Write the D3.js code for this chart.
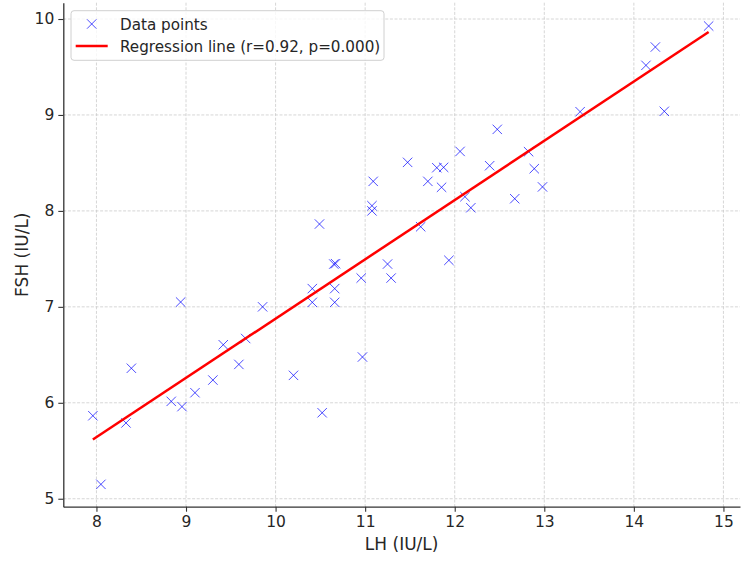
<!DOCTYPE html>
<html>
<head>
<meta charset="utf-8">
<script src="https://cdn.jsdelivr.net/npm/d3@7"></script>
<style>
  body { margin: 0; background: #fff; }
  svg text { font-family: "DejaVu Sans", sans-serif; }
</style>
</head>
<body>
<div id="chart"></div>
<script>
// LH / FSH values
const lhValues = [
    7.96, 8.05, 8.33, 8.39, 8.835, 8.955, 8.94, 9.10, 9.30, 9.416,
    9.59, 9.666, 9.855, 10.20, 10.41, 10.41, 10.65, 10.67, 10.66, 10.66,
    10.956, 11.25, 11.29, 11.935, 10.97, 10.52, 10.49, 11.09, 11.076, 11.076,
    11.474, 11.70, 11.80, 11.876, 11.853, 11.62, 12.06, 12.114, 12.18, 12.39,
    12.475, 12.67, 12.825, 12.888, 12.98, 13.40, 14.135, 14.24, 14.34, 14.835
];
const fshValues = [
    5.865, 5.15, 5.79, 6.36, 6.015, 5.96, 7.05, 6.105, 6.237, 6.605,
    6.40, 6.67, 7.00, 6.286, 7.19, 7.047, 7.446, 7.45, 7.19, 7.047,
    7.30, 7.446, 7.30, 7.485, 6.477, 5.896, 7.863, 8.308, 8.054, 8.00,
    8.506, 8.308, 8.45, 8.454, 8.246, 7.835, 8.62, 8.148, 8.033, 8.471,
    8.85, 8.127, 8.617, 8.44, 8.25, 9.034, 9.517, 9.708, 9.038, 9.927
];
const xTicks = [8, 9, 10, 11, 12, 13, 14, 15];
const yTicks = [5, 6, 7, 8, 9, 10];
const legendLabels = ["Data points", "Regression line (r=0.92, p=0.000)"];

const W = 750, H = 564;
const plot = { left: 63.3, right: 740, top: 2.7, bottom: 506.7 };

const svg = d3.select("#chart").append("svg")
    .attr("width", W)
    .attr("height", H);

const x = d3.scaleLinear().domain([7.63, 15.185]).range([plot.left, plot.right]);
const y = d3.scaleLinear().domain([4.917, 10.17]).range([plot.bottom, plot.top]);

const points = lhValues.map((v, i) => ({ lh: v, fsh: fshValues[i] }));

// Grid
const grid = svg.append("g");
grid.selectAll(".gx").data(xTicks).enter().append("line")
    .attr("x1", d => x(d)).attr("x2", d => x(d))
    .attr("y1", plot.top).attr("y2", plot.bottom)
    .attr("stroke", "#cccccc").attr("stroke-width", 0.8)
    .attr("stroke-dasharray", "3,1.6");
grid.selectAll(".gy").data(yTicks).enter().append("line")
    .attr("x1", plot.left).attr("x2", plot.right)
    .attr("y1", d => y(d)).attr("y2", d => y(d))
    .attr("stroke", "#cccccc").attr("stroke-width", 0.8)
    .attr("stroke-dasharray", "3,1.6");

// Least squares fit
const mx = d3.mean(points, d => d.lh), my = d3.mean(points, d => d.fsh);
const slope = d3.sum(points, d => (d.lh - mx) * (d.fsh - my)) /
    d3.sum(points, d => (d.lh - mx) ** 2);
const intercept = my - slope * mx;
const xExt = d3.extent(lhValues);

// Markers
const s = 4.7;
svg.append("g")
    .selectAll("path")
    .data(points)
    .enter()
    .append("path")
    .attr("d", d => {
        const cx = x(d.lh), cy = y(d.fsh);
        return `M${cx - s},${cy - s}L${cx + s},${cy + s}M${cx - s},${cy + s}L${cx + s},${cy - s}`;
    })
    .attr("stroke", "blue")
    .attr("stroke-opacity", 0.7)
    .attr("stroke-width", 1)
    .attr("fill", "none");

// Regression line
svg.append("line")
    .attr("x1", x(xExt[0])).attr("y1", y(intercept + slope * xExt[0]))
    .attr("x2", x(xExt[1])).attr("y2", y(intercept + slope * xExt[1]))
    .attr("stroke", "red")
    .attr("stroke-width", 2.5);

// Axes
const axisColor = "#333333";
const xAxis = svg.append("g")
    .attr("transform", `translate(0,${plot.bottom})`)
    .call(d3.axisBottom(x).tickValues(xTicks).tickFormat(d3.format("d"))
        .tickSize(5).tickPadding(4).tickSizeOuter(0));
const yAxis = svg.append("g")
    .attr("transform", `translate(${plot.left},0)`)
    .call(d3.axisLeft(y).tickValues(yTicks).tickFormat(d3.format("d"))
        .tickSize(5).tickPadding(4).tickSizeOuter(0));

[xAxis, yAxis].forEach(a => {
    a.select(".domain").attr("stroke", axisColor).attr("stroke-width", 1.3);
    a.selectAll(".tick line").attr("stroke", axisColor).attr("stroke-width", 1.1);
    a.selectAll(".tick text")
        .attr("fill", "#262626")
        .style("font-size", "15.5px")
        .style("font-family", "DejaVu Sans, sans-serif");
});

// Labels
svg.append("text")
    .attr("x", (plot.left + plot.right) / 2)
    .attr("y", 550)
    .attr("text-anchor", "middle")
    .attr("fill", "#262626")
    .style("font-size", "17px")
    .text("LH (IU/L)");

svg.append("text")
    .attr("transform", `translate(28,${(plot.top + plot.bottom) / 2}) rotate(-90)`)
    .attr("text-anchor", "middle")
    .attr("fill", "#262626")
    .style("font-size", "17px")
    .text("FSH (IU/L)");

// Legend
const legend = svg.append("g");
legend.append("rect")
    .attr("x", 71).attr("y", 10.7)
    .attr("width", 313).attr("height", 49.6)
    .attr("rx", 3)
    .attr("fill", "white").attr("fill-opacity", 0.8)
    .attr("stroke", "#d0d0d0").attr("stroke-width", 1);
legend.append("path")
    .attr("d", `M${91.7 - s},${24 - s}L${91.7 + s},${24 + s}M${91.7 - s},${24 + s}L${91.7 + s},${24 - s}`)
    .attr("stroke", "blue").attr("stroke-opacity", 0.7).attr("stroke-width", 1);
legend.append("line")
    .attr("x1", 75.7).attr("x2", 107.7)
    .attr("y1", 46).attr("y2", 46)
    .attr("stroke", "red").attr("stroke-width", 2.5);
legend.selectAll(".lt")
    .data(legendLabels)
    .enter()
    .append("text")
    .attr("x", 120)
    .attr("y", (d, i) => 29.5 + i * 22.3)
    .attr("fill", "#262626")
    .style("font-size", "15.2px")
    .text(d => d);
</script>
</body>
</html>
